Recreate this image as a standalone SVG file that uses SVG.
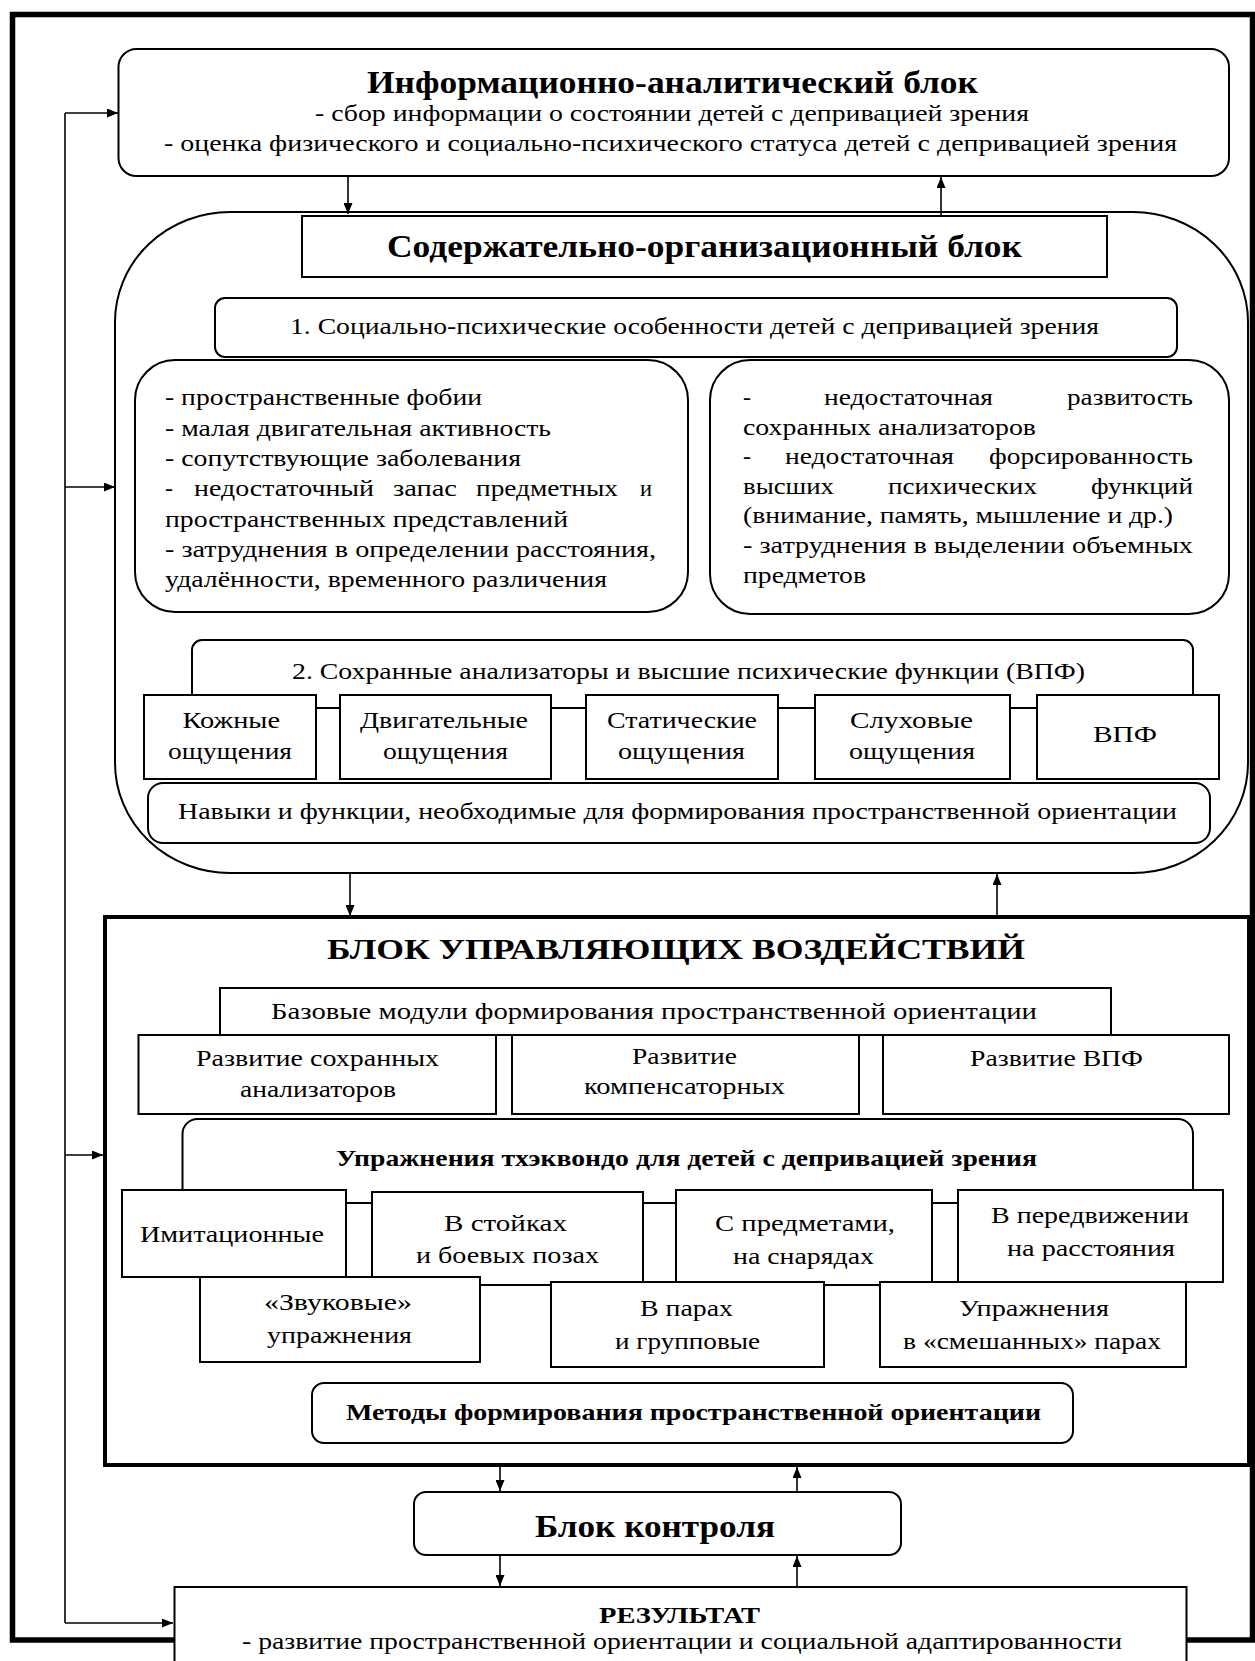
<svg xmlns="http://www.w3.org/2000/svg" width="1255" height="1661" viewBox="0 0 1255 1661">
<defs>
<marker id="ah" markerUnits="userSpaceOnUse" markerWidth="11" markerHeight="9" refX="11" refY="4.5" orient="auto">
<path d="M0,0 L11,4.5 L0,9 z" fill="#000"/>
</marker>
<style>
.t{font-family:"Liberation Serif","Times New Roman",serif;font-size:24px;fill:#000}
.b{font-weight:bold}
.h{font-size:31px}
.box{fill:#fff;stroke:#000;stroke-width:2}
.c{stroke:#000;stroke-width:1.6;fill:none;marker-end:url(#ah)}
.ln{stroke:#000;stroke-width:1.6;fill:none}
</style>
</defs>
<rect width="1255" height="1661" fill="#fff"/>
<rect id="frame" x="12.5" y="14.5" width="1240" height="1625.5" fill="none" stroke="#000" stroke-width="5.5"/>

<g id="info">
<rect class="box" x="118.5" y="49" width="1110.5" height="127" rx="18"/>
<text class="t b h" x="367" y="93" textLength="611" lengthAdjust="spacingAndGlyphs">Информационно-аналитический блок</text>
<text class="t" x="315" y="121" textLength="714" lengthAdjust="spacingAndGlyphs">- сбор информации о состоянии детей с депривацией зрения</text>
<text class="t" x="164" y="151" textLength="1013" lengthAdjust="spacingAndGlyphs">- оценка физического и социально-психического статуса детей с депривацией зрения</text>
</g>

<g id="content">
<rect class="box" x="115" y="212" width="1133" height="661" rx="115" ry="110"/>
<g id="content-title">
<rect class="box" x="302" y="216" width="805" height="61"/>
<text class="t b h" x="387" y="257" textLength="635" lengthAdjust="spacingAndGlyphs">Содержательно-организационный блок</text>
</g>
<g id="features">
<rect class="box" x="215" y="298" width="962" height="59" rx="10"/>
<text class="t" x="290" y="334" textLength="809" lengthAdjust="spacingAndGlyphs">1. Социально-психические особенности детей с депривацией зрения</text>
</g>
<g id="features-left">
<rect class="box" x="135" y="360" width="553" height="252" rx="40"/>
<text class="t" x="165" y="405" textLength="317" lengthAdjust="spacingAndGlyphs">- пространственные фобии</text>
<text class="t" x="165" y="435.5" textLength="386" lengthAdjust="spacingAndGlyphs">- малая двигательная активность</text>
<text class="t" x="165" y="466" textLength="356" lengthAdjust="spacingAndGlyphs">- сопутствующие заболевания</text>
<text class="t" x="165" y="496" textLength="8" lengthAdjust="spacingAndGlyphs">-</text>
<text class="t" x="194" y="496" textLength="180" lengthAdjust="spacingAndGlyphs">недостаточный</text>
<text class="t" x="393" y="496" textLength="64" lengthAdjust="spacingAndGlyphs">запас</text>
<text class="t" x="476" y="496" textLength="142" lengthAdjust="spacingAndGlyphs">предметных</text>
<text class="t" x="640" y="496" textLength="12" lengthAdjust="spacingAndGlyphs">и</text>
<text class="t" x="165" y="526.5" textLength="403" lengthAdjust="spacingAndGlyphs">пространственных представлений</text>
<text class="t" x="165" y="557" textLength="491" lengthAdjust="spacingAndGlyphs">- затруднения в определении расстояния,</text>
<text class="t" x="165" y="587" textLength="442" lengthAdjust="spacingAndGlyphs">удалённости, временного различения</text>
</g>
<g id="features-right">
<rect class="box" x="710" y="360" width="519" height="254" rx="40"/>
<text class="t" x="743" y="405" textLength="8" lengthAdjust="spacingAndGlyphs">-</text>
<text class="t" x="824" y="405" textLength="169" lengthAdjust="spacingAndGlyphs">недостаточная</text>
<text class="t" x="1067" y="405" textLength="126" lengthAdjust="spacingAndGlyphs">развитость</text>
<text class="t" x="743" y="434.5" textLength="293" lengthAdjust="spacingAndGlyphs">сохранных анализаторов</text>
<text class="t" x="743" y="464" textLength="8" lengthAdjust="spacingAndGlyphs">-</text>
<text class="t" x="785" y="464" textLength="169" lengthAdjust="spacingAndGlyphs">недостаточная</text>
<text class="t" x="989" y="464" textLength="204" lengthAdjust="spacingAndGlyphs">форсированность</text>
<text class="t" x="743" y="493.5" textLength="91" lengthAdjust="spacingAndGlyphs">высших</text>
<text class="t" x="888" y="493.5" textLength="149" lengthAdjust="spacingAndGlyphs">психических</text>
<text class="t" x="1091" y="493.5" textLength="102" lengthAdjust="spacingAndGlyphs">функций</text>
<text class="t" x="743" y="523" textLength="430" lengthAdjust="spacingAndGlyphs">(внимание, память, мышление и др.)</text>
<text class="t" x="743" y="553" textLength="450" lengthAdjust="spacingAndGlyphs">- затруднения в выделении объемных</text>
<text class="t" x="743" y="582.5" textLength="123" lengthAdjust="spacingAndGlyphs">предметов</text>
</g>
<g id="analyzers">
<rect class="box" x="192" y="640" width="1001" height="68" rx="10"/>
<text class="t" x="292" y="679" textLength="793" lengthAdjust="spacingAndGlyphs">2. Сохранные анализаторы и высшие психические функции (ВПФ)</text>
</g>
<g id="an-skin">
<rect class="box" x="144" y="695" width="172" height="84"/>
<text class="t" x="182.5" y="728" textLength="97.5" lengthAdjust="spacingAndGlyphs">Кожные</text>
<text class="t" x="168" y="759" textLength="124" lengthAdjust="spacingAndGlyphs">ощущения</text>
</g>
<g id="an-motor">
<rect class="box" x="340" y="695" width="211" height="84"/>
<text class="t" x="360" y="728" textLength="168" lengthAdjust="spacingAndGlyphs">Двигательные</text>
<text class="t" x="383" y="759" textLength="125" lengthAdjust="spacingAndGlyphs">ощущения</text>
</g>
<g id="an-static">
<rect class="box" x="586" y="695" width="192" height="84"/>
<text class="t" x="607" y="728" textLength="150" lengthAdjust="spacingAndGlyphs">Статические</text>
<text class="t" x="618" y="759" textLength="127" lengthAdjust="spacingAndGlyphs">ощущения</text>
</g>
<g id="an-audio">
<rect class="box" x="815" y="695" width="195" height="84"/>
<text class="t" x="850" y="728" textLength="123" lengthAdjust="spacingAndGlyphs">Слуховые</text>
<text class="t" x="849" y="759" textLength="126" lengthAdjust="spacingAndGlyphs">ощущения</text>
</g>
<g id="an-vpf">
<rect class="box" x="1037" y="695" width="182" height="84"/>
<text class="t" x="1093" y="742" textLength="64" lengthAdjust="spacingAndGlyphs">ВПФ</text>
</g>
<g id="skills">
<rect class="box" x="148" y="783" width="1062" height="60" rx="15"/>
<text class="t" x="178" y="819" textLength="999" lengthAdjust="spacingAndGlyphs">Навыки и функции, необходимые для формирования пространственной ориентации</text>
</g>
</g>

<g id="control">
<rect x="105" y="917" width="1144" height="548" fill="#fff" stroke="#000" stroke-width="4"/>
<text class="t b" style="font-size:30px" x="327" y="959" textLength="698" lengthAdjust="spacingAndGlyphs">БЛОК УПРАВЛЯЮЩИХ ВОЗДЕЙСТВИЙ</text>
<g id="modules">
<rect class="box" x="220" y="988" width="891" height="47"/>
<text class="t" x="271" y="1019" textLength="766" lengthAdjust="spacingAndGlyphs">Базовые модули формирования пространственной ориентации</text>
</g>
<g id="mod-analyzers">
<rect class="box" x="138.5" y="1035" width="357.5" height="79"/>
<text class="t" x="196" y="1066" textLength="243" lengthAdjust="spacingAndGlyphs">Развитие сохранных</text>
<text class="t" x="240" y="1097" textLength="156" lengthAdjust="spacingAndGlyphs">анализаторов</text>
</g>
<g id="mod-compens">
<rect class="box" x="512" y="1035" width="347" height="79"/>
<text class="t" x="632" y="1064" textLength="105" lengthAdjust="spacingAndGlyphs">Развитие</text>
<text class="t" x="584" y="1094" textLength="201" lengthAdjust="spacingAndGlyphs">компенсаторных</text>
</g>
<g id="mod-vpf">
<rect class="box" x="883" y="1035" width="346" height="79"/>
<text class="t" x="970" y="1066" textLength="173" lengthAdjust="spacingAndGlyphs">Развитие ВПФ</text>
</g>
<g id="exercises">
<rect class="box" x="182.5" y="1119" width="1010.5" height="84" rx="15"/>
<text class="t b" x="336" y="1166" textLength="701" lengthAdjust="spacingAndGlyphs">Упражнения тхэквондо для детей с депривацией зрения</text>
</g>
<g id="ex-imit">
<rect class="box" x="122" y="1190" width="224" height="87"/>
<text class="t" x="140" y="1242" textLength="184" lengthAdjust="spacingAndGlyphs">Имитационные</text>
</g>
<g id="ex-stance">
<rect class="box" x="372" y="1192" width="271" height="93"/>
<text class="t" x="444" y="1231" textLength="123" lengthAdjust="spacingAndGlyphs">В стойках</text>
<text class="t" x="416" y="1263" textLength="183" lengthAdjust="spacingAndGlyphs">и боевых позах</text>
</g>
<g id="ex-objects">
<rect class="box" x="676" y="1190" width="256" height="95"/>
<text class="t" x="715" y="1231" textLength="180" lengthAdjust="spacingAndGlyphs">С предметами,</text>
<text class="t" x="733" y="1264" textLength="141" lengthAdjust="spacingAndGlyphs">на снарядах</text>
</g>
<g id="ex-move">
<rect class="box" x="958" y="1190" width="265" height="92"/>
<text class="t" x="991" y="1223" textLength="198" lengthAdjust="spacingAndGlyphs">В передвижении</text>
<text class="t" x="1007" y="1256" textLength="168" lengthAdjust="spacingAndGlyphs">на расстояния</text>
</g>
<g id="ex-sound">
<rect class="box" x="200" y="1277" width="280" height="85"/>
<text class="t" x="264" y="1310" textLength="148" lengthAdjust="spacingAndGlyphs">«Звуковые»</text>
<text class="t" x="267" y="1343" textLength="145" lengthAdjust="spacingAndGlyphs">упражнения</text>
</g>
<g id="ex-pairs">
<rect class="box" x="551" y="1282" width="273" height="85"/>
<text class="t" x="640" y="1316" textLength="93" lengthAdjust="spacingAndGlyphs">В парах</text>
<text class="t" x="615" y="1349" textLength="145" lengthAdjust="spacingAndGlyphs">и групповые</text>
</g>
<g id="ex-mixed">
<rect class="box" x="880" y="1282" width="306" height="85"/>
<text class="t" x="959" y="1316" textLength="150" lengthAdjust="spacingAndGlyphs">Упражнения</text>
<text class="t" x="903" y="1349" textLength="258" lengthAdjust="spacingAndGlyphs">в «смешанных» парах</text>
</g>
<g id="methods">
<rect class="box" x="312" y="1383" width="761" height="60" rx="12"/>
<text class="t b" x="346" y="1420" textLength="695" lengthAdjust="spacingAndGlyphs">Методы формирования пространственной ориентации</text>
</g>
</g>

<g id="monitoring">
<rect class="box" x="414" y="1492" width="487" height="63" rx="12"/>
<text class="t b" style="font-size:31px" x="535" y="1537" textLength="240" lengthAdjust="spacingAndGlyphs">Блок контроля</text>
</g>

<g id="result">
<rect class="box" x="174.5" y="1587" width="1012" height="90"/>
<text class="t b" x="599" y="1623" textLength="161" lengthAdjust="spacingAndGlyphs">РЕЗУЛЬТАТ</text>
<text class="t" x="242" y="1649" textLength="880" lengthAdjust="spacingAndGlyphs">- развитие пространственной ориентации и социальной адаптированности</text>
</g>

<g id="connectors">
<line class="c" x1="348" y1="177" x2="348" y2="214"/>
<line class="c" x1="941" y1="216" x2="941" y2="177"/>
<line class="c" x1="350" y1="874" x2="350" y2="916"/>
<line class="c" x1="997" y1="915" x2="997" y2="874"/>
<line class="c" x1="500" y1="1467" x2="500" y2="1491"/>
<line class="c" x1="797" y1="1491" x2="797" y2="1467"/>
<line class="c" x1="500" y1="1556" x2="500" y2="1586"/>
<line class="c" x1="797" y1="1586" x2="797" y2="1556"/>
<line class="ln" x1="65" y1="113" x2="65" y2="1623"/>
<line class="c" x1="65" y1="113" x2="118" y2="113"/>
<line class="c" x1="65" y1="487" x2="115" y2="487"/>
<line class="c" x1="65" y1="1155" x2="103" y2="1155"/>
<line class="c" x1="65" y1="1623" x2="173" y2="1623"/>
</g>
</svg>
